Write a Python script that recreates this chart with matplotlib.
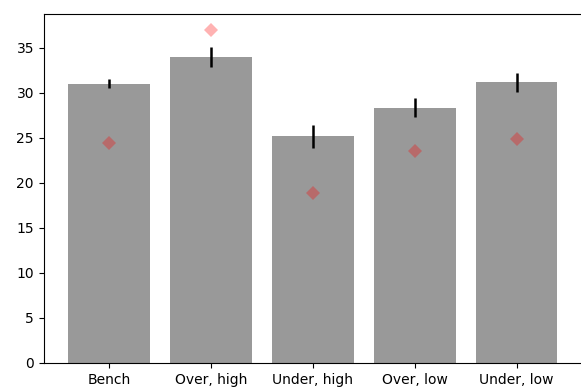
import matplotlib
matplotlib.use('Agg')
import matplotlib.pyplot as plt

labels = ['Bench', 'Over, high', 'Under, high', 'Over, low', 'Under, low']
means = [31.0, 34.0, 25.15, 28.3, 31.15]
errors = [0.5, 1.1, 1.25, 1.05, 1.05]
markers = [24.4, 36.9, 18.9, 23.5, 24.8]

x = range(len(labels))

fig, ax = plt.subplots(figsize=(5.81, 3.91), dpi=100)
# right spine falls just outside the picture, as in the original
fig.subplots_adjust(left=0.0752, right=1.0016, top=0.9635, bottom=0.072)

ax.bar(x, means, width=0.8, color='#999999', yerr=errors,
       error_kw=dict(ecolor='black', elinewidth=1.8, capsize=0))
ax.plot(x, markers, 'D', color='red', alpha=0.3, markersize=7, markeredgewidth=0)

ax.set_xticks(list(x))
ax.set_xticklabels(labels)
ax.set_ylim(0, 38.7)
ax.set_yticks(range(0, 36, 5))

fig.savefig('out.png', dpi=100)
